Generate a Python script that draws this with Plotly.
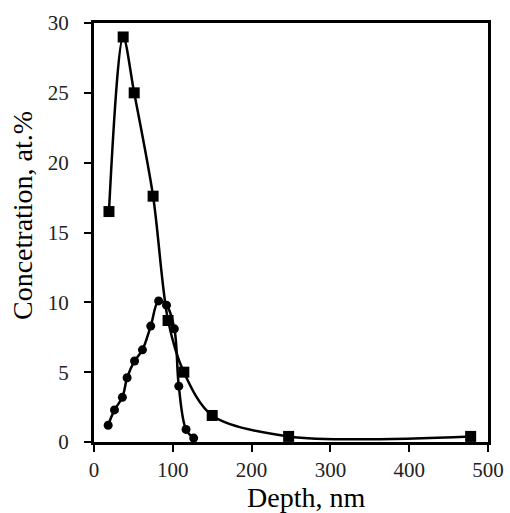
import plotly.graph_objects as go

# Series 1 (squares)
sq_depth = [19, 37, 51, 75, 94, 114, 150, 247, 478]
sq_conc = [16.5, 29.0, 25.0, 17.6, 8.7, 5.0, 1.9, 0.4, 0.4]

# Series 2 (circles)
ci_depth = [18, 26, 36, 42, 51.5, 61.5, 72, 82, 92, 102, 107.6, 116.8, 126.5]
ci_conc = [1.2, 2.3, 3.2, 4.6, 5.8, 6.6, 8.3, 10.1, 9.8, 8.1, 4.0, 0.9, 0.28]

x_ticks = [0, 100, 200, 300, 400, 500]
y_ticks = [0, 5, 10, 15, 20, 25, 30]

FONT = "Liberation Serif, Times New Roman, serif"

fig = go.Figure()
fig.add_trace(go.Scatter(
    x=sq_depth, y=sq_conc, mode="lines+markers",
    line=dict(color="black", width=2.5, shape="spline", smoothing=0.9),
    marker=dict(symbol="square", size=11, color="black"),
    showlegend=False, cliponaxis=False, hoverinfo="skip",
))
fig.add_trace(go.Scatter(
    x=ci_depth, y=ci_conc, mode="lines+markers",
    line=dict(color="black", width=2.5, shape="spline", smoothing=1),
    marker=dict(symbol="circle", size=9, color="black"),
    showlegend=False, cliponaxis=False, hoverinfo="skip",
))

axis_common = dict(
    showgrid=False, zeroline=False, showline=True, linecolor="black", linewidth=3,
    mirror=True, ticks="outside", ticklen=7, tickwidth=2, tickcolor="black",
    tickfont=dict(family=FONT, size=21, color="#222"), automargin=False,
)
fig.update_xaxes(range=[0, 500], tickvals=x_ticks, ticktext=[str(v) for v in x_ticks], **axis_common)
fig.update_yaxes(range=[0, 30], tickvals=y_ticks, ticktext=[str(v) for v in y_ticks],
                 ticklabelstandoff=11, **axis_common)

fig.add_annotation(text="Depth, nm", xref="paper", yref="paper", x=0.539, y=-0.1335,
                   xanchor="center", yanchor="middle", showarrow=False,
                   font=dict(family=FONT, size=28, color="black"))
fig.add_annotation(text="Concetration, at.%", xref="paper", yref="paper", x=-0.181, y=0.541,
                   xanchor="center", yanchor="middle", textangle=-90, showarrow=False,
                   font=dict(family=FONT, size=28, color="black"))

fig.update_layout(
    width=510, height=513,
    margin=dict(l=94, r=22, t=23, b=71),
    paper_bgcolor="white", plot_bgcolor="white",
)
fig.write_html("out.html", config={"displayModeBar": False, "staticPlot": True},
               post_script="document.body.style.margin='0';document.body.style.overflow='hidden';")
